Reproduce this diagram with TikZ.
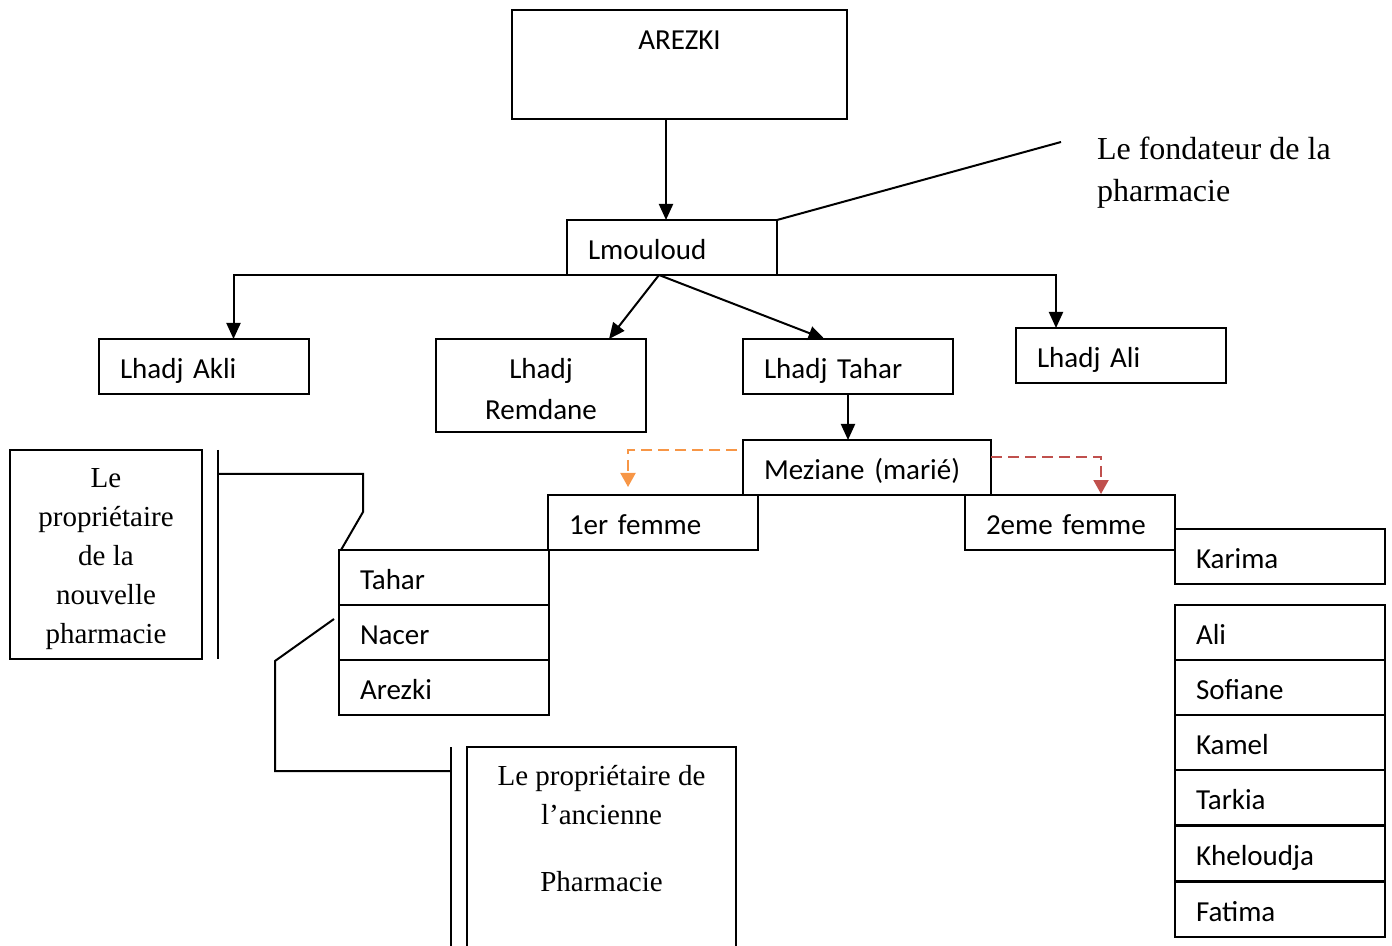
\documentclass[tikz,border=0pt]{standalone}
\usepackage{fontspec}
\setmainfont{Liberation Serif}
\newfontfamily\calib{Carlito}
\usetikzlibrary{arrows.meta,calc}
\definecolor{orangeA}{HTML}{F79646}
\definecolor{redA}{HTML}{C0504D}
\begin{document}
\begin{tikzpicture}[x=0.5pt,y=-0.5pt,
  every node/.style={inner sep=0pt, outer sep=0pt},
  calfont/.style={font=\calib\fontsize{14.5}{20.5}\selectfont},
  bx/.style={draw, line width=1pt, anchor=north west, minimum height=27.5pt,
    inner xsep=10.5pt, inner ysep=0pt, text width=84pt, align=left, calfont,
    text height=13.5pt, text depth=1.2pt},
  plainbox/.style={draw, line width=1pt, anchor=north west},
  serif/.style={font=\fontsize{14.5}{19.5}\selectfont},
  ln/.style={line width=1pt},
  arr/.style={line width=1pt, -{Triangle[length=8pt,width=7pt]}},
  dsh/.style={line width=1pt, dash pattern=on 5.5pt off 3pt, -{Triangle[length=7pt,width=7.5pt]}}
]
\useasboundingbox (0,0) rectangle (1392,946);

% top
\node[plainbox, minimum width=167.5pt, minimum height=54.5pt,
  label={[anchor=base, yshift=-20pt, calfont]north:AREZKI}] (arezki) at (512,10) {};
\node[bx] (lm) at (567,220) {Lmouloud};

% second level
\node[bx] (akli) at (99,339) {Lhadj Akli};
\node[plainbox, minimum width=105pt, minimum height=46.5pt,
  label={[align=center, calfont, yshift=-2pt]center:Lhadj\\Remdane}] (remd) at (436,339) {};
\node[bx] (ltah) at (743,339) {Lhadj Tahar};
\node[bx] (lali) at (1016,328) {Lhadj Ali};

% Meziane and wives
\node[bx, text width=103pt] (mez) at (743,440) {Meziane (marié)};
\node[bx] (f1) at (548,495) {1er femme};
\node[bx] (f2) at (965,495) {2eme femme};

% children of first wife
\node[bx] (tahar) at (339,550) {Tahar};
\node[bx] (nacer) at (339,605) {Nacer};
\node[bx] (arz) at (339,660) {Arezki};

% children of second wife
\node[bx] (karima) at (1175,529) {Karima};
\node[bx] (cali) at (1175,605) {Ali};
\node[bx] (sofiane) at (1175,660) {Sofiane};
\node[bx] (kamel) at (1175,715) {Kamel};
\node[bx] (tarkia) at (1175,770) {Tarkia};
\node[bx] (khel) at (1175,826) {Kheloudja};
\node[bx] (fatima) at (1175,882) {Fatima};

% annotations
\node[anchor=north west, align=left, font=\fontsize{16}{21}\selectfont] (fond) at (1097,137) {Le fondateur de la\\pharmacie};
\coordinate (fend) at (1061,142);
\node[plainbox, minimum width=96pt, minimum height=104.5pt,
  label={[align=center, serif, yshift=-2.5pt]center:Le\\propriétaire\\de la\\nouvelle\\pharmacie}] (newp) at (10,450) {};
\coordinate (v1top) at (218,450);
\coordinate (v1bot) at (218,659);
\node[plainbox, minimum width=134.5pt, minimum height=115pt] (oldp) at (467,747) {};
\node[serif, anchor=north, align=center] (oldtxt) at ([yshift=-9pt]oldp.north) {Le propriétaire de\\l’ancienne\\[14pt]Pharmacie};
\coordinate (v2top) at (451,747);
\coordinate (v2bot) at (451,960);

% connectors
\draw[arr] ([xshift=-6.75pt]arezki.south) -- ([xshift=-3pt]lm.north);
\draw[ln] (lm.south west) -- (lm.south east);
\draw[arr] (lm.south west) -| ([xshift=14.75pt]akli.north);
\draw[arr] (lm.south east) -| ([xshift=-32.5pt]lali.north);
\draw[arr] ([xshift=-6.5pt]lm.south) -- ([xshift=34pt]remd.north);
\draw[arr] ([xshift=-6.5pt]lm.south) -- ([xshift=-11.75pt]ltah.north);
\draw[arr] (ltah.south) -- (ltah.south |- mez.north);
\draw[dsh, orangeA] ([xshift=-3pt,yshift=-5pt]mez.north west) -| ([xshift=40pt,yshift=4pt]f1.north west);
\draw[dsh, redA] ([yshift=-8.5pt]mez.north east) -| ([xshift=68pt,yshift=0.5pt]f2.north west);

\draw[ln] (lm.north east) -- (fend);
\draw[ln] (v1top) -- (v1bot);
\draw[ln] ([yshift=-12pt]v1top) -| ([xshift=12pt,yshift=19pt]tahar.north west) -- ([xshift=1pt]tahar.north west);
\draw[ln] ([xshift=-2.5pt,yshift=6.75pt]nacer.west) -- ([xshift=-32pt,yshift=-14.25pt]nacer.west) |- ([yshift=-12pt]v2top);
\draw[ln] (v2top) -- (v2bot);
\end{tikzpicture}
\end{document}
